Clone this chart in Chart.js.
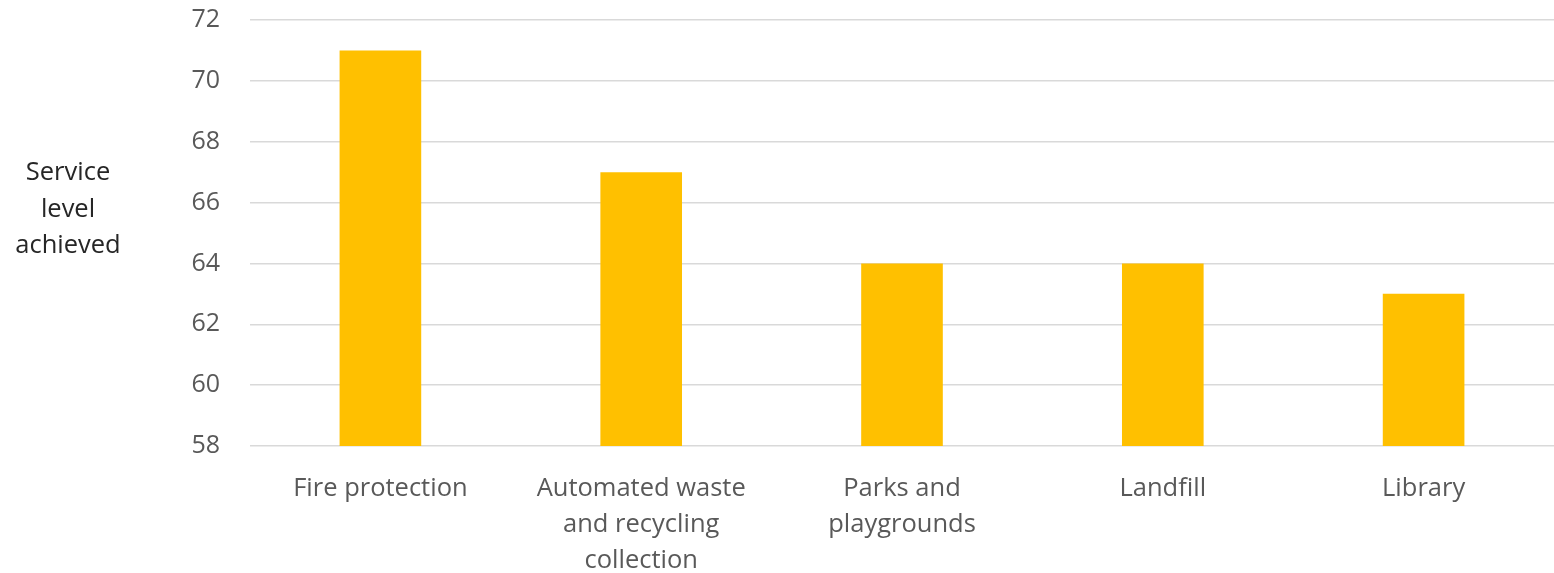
<!DOCTYPE html>
<html>
<head>
<meta charset="utf-8">
<script src="https://cdn.jsdelivr.net/npm/chart.js@4/dist/chart.umd.min.js"></script>
<style>
  html, body { margin: 0; padding: 0; background: #fff; }
  #wrap { width: 1554px; height: 573px; }
</style>
</head>
<body>
<div id="wrap"><canvas id="barchart" width="1554" height="573"></canvas></div>
<script>
const categories = [
    'Fire protection',
    ['Automated waste', 'and recycling', 'collection'],
    ['Parks and', 'playgrounds'],
    'Landfill',
    'Library'
];
const serviceLevel = [71, 67, 64, 64, 63];
const yTicks = [58, 60, 62, 64, 66, 68, 70, 72];
const yTitle = ['Service', 'level', 'achieved'];

const FONT = '"Open Sans", Lato, sans-serif';

// horizontal y-axis title to the left of the tick labels
const sideTitle = {
    id: 'sideTitle',
    afterDraw(chart) {
        const c = chart.ctx;
        c.save();
        c.font = '25.5px ' + FONT;
        c.fillStyle = '#262626';
        c.textAlign = 'center';
        c.textBaseline = 'middle';
        yTitle.forEach((line, i) => {
            c.fillText(line, 68, 173 + i * 36.5);
        });
        c.restore();
    }
};

const ctx = document.getElementById('barchart').getContext('2d');
const myChart = new Chart(ctx, {
    type: 'bar',
    data: {
        labels: categories,
        datasets: [{
            label: 'Service level achieved',
            data: serviceLevel,
            backgroundColor: '#FFC000',
            borderWidth: 0,
            categoryPercentage: 1,
            barPercentage: 0.313
        }]
    },
    options: {
        responsive: false,
        animation: false,
        // plot area runs a little past the right edge, as in the cropped original
        layout: { padding: { left: 0, right: -9, top: 20, bottom: 0 } },
        plugins: {
            legend: { display: false },
            tooltip: { enabled: false }
        },
        scales: {
            x: {
                grid: { display: false },
                border: { display: false },
                afterFit(axis) {
                    axis.height = 127;
                },
                ticks: {
                    color: '#595959',
                    font: { family: FONT, size: 25.5, lineHeight: 1.41 },
                    maxRotation: 0,
                    autoSkip: false,
                    padding: 17
                }
            },
            y: {
                min: 58,
                max: 72,
                afterBuildTicks(axis) {
                    axis.ticks = yTicks.map(v => ({ value: v }));
                },
                afterFit(axis) {
                    axis.width = 250;
                    axis.paddingTop = 0;
                    axis.paddingBottom = 0;
                },
                grid: { color: '#d9d9d9', lineWidth: 1.5, drawTicks: false },
                border: { display: false },
                ticks: {
                    color: '#595959',
                    font: { family: FONT, size: 25 },
                    padding: 30
                }
            }
        }
    },
    plugins: [sideTitle]
});
</script>
</body>
</html>
